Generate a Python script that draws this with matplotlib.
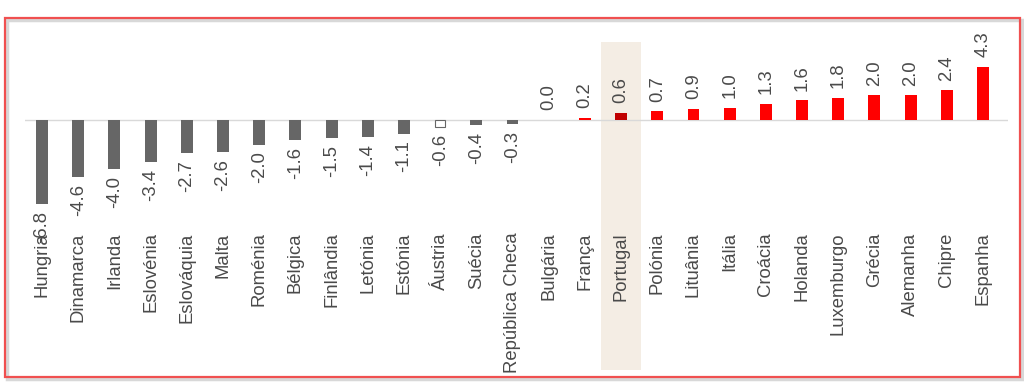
import matplotlib
matplotlib.use("Agg")
import matplotlib.pyplot as plt
from matplotlib.patches import Rectangle

plt.rcParams['font.family'] = ['Liberation Sans', 'DejaVu Sans']

countries = ["Hungria", "Dinamarca", "Irlanda", "Eslovénia", "Eslováquia", "Malta",
             "Roménia", "Bélgica", "Finlândia", "Letónia", "Estónia", "Áustria",
             "Suécia", "República Checa", "Bulgária", "França", "Portugal", "Polónia",
             "Lituânia", "Itália", "Croácia", "Holanda", "Luxemburgo", "Grécia",
             "Alemanha", "Chipre", "Espanha"]
values = [-6.8, -4.6, -4.0, -3.4, -2.7, -2.6, -2.0, -1.6, -1.5, -1.4, -1.1, -0.6,
          -0.4, -0.3, 0.0, 0.2, 0.6, 0.7, 0.9, 1.0, 1.3, 1.6, 1.8, 2.0, 2.0, 2.4, 4.3]
highlight = "Portugal"
outlined = "Áustria"

W, H = 1024, 385
fig = plt.figure(figsize=(W / 100, H / 100), dpi=100)
fig.patch.set_facecolor("white")

# frame with shadow
fig.patches.append(Rectangle((7 / W, 1 - 379 / H), 1015 / W, 359 / H, transform=fig.transFigure,
                             facecolor="none", edgecolor="#d8d8d8", lw=2.5, zorder=0))
fig.patches.append(Rectangle((5 / W, 1 - 377 / H), 1015 / W, 359 / H, transform=fig.transFigure,
                             facecolor="none", edgecolor="#f05050", lw=1.6, zorder=1))

ax_top, ax_bot = 30, 231
ax = fig.add_axes([25 / W, 1 - ax_bot / H, (1008 - 25) / W, (ax_bot - ax_top) / H])
ax.set_facecolor("none")
zero_px = 120
scale = 12.3
ax.set_ylim(-(ax_bot - zero_px) / scale, (zero_px - ax_top) / scale)
ax.set_xlim(-0.47, 26.69)

x = list(range(len(countries)))
colors = []
for c, v in zip(countries, values):
    if c == highlight:
        colors.append("#C00000")
    elif v < 0:
        colors.append("#666666")
    else:
        colors.append("#FF0000")

# Portugal highlight band
pi = countries.index(highlight)
ax.axvspan(pi - 0.55, pi + 0.55, ymin=(ax_bot - 370) / (ax_bot - ax_top),
           ymax=(ax_bot - 42) / (ax_bot - ax_top), facecolor="#F4EDE4",
           edgecolor="none", clip_on=False, zorder=0)

ax.axhline(0, color="#d9d9d9", lw=1.0, zorder=1)

fs = 13.3
tc = "#4a4a4a"
for xi, c, v, col in zip(x, countries, values, colors):
    if c == outlined:
        ax.bar(xi, v, width=0.28, facecolor="white", edgecolor="#666666", lw=0.8, zorder=2)
    elif v != 0:
        ax.bar(xi, v, width=0.33, color=col, zorder=2)
    if v >= 0:
        ax.annotate(f"{v:.1f}", (xi, v), xytext=(0, 7), textcoords="offset points",
                    rotation=90, ha="center", va="bottom", fontsize=fs, color=tc)
    else:
        ax.annotate(f"{v:.1f}", (xi, v), xytext=(0, -5), textcoords="offset points",
                    rotation=90, ha="center", va="top", fontsize=fs, color=tc)

ax.set_xticks(x)
ax.set_xticklabels(countries, rotation=90, fontsize=fs, color=tc)
ax.tick_params(axis="x", length=0, pad=1)
ax.set_yticks([])
for s in ax.spines.values():
    s.set_visible(False)

fig.savefig("out.png", dpi=100, facecolor="white")
